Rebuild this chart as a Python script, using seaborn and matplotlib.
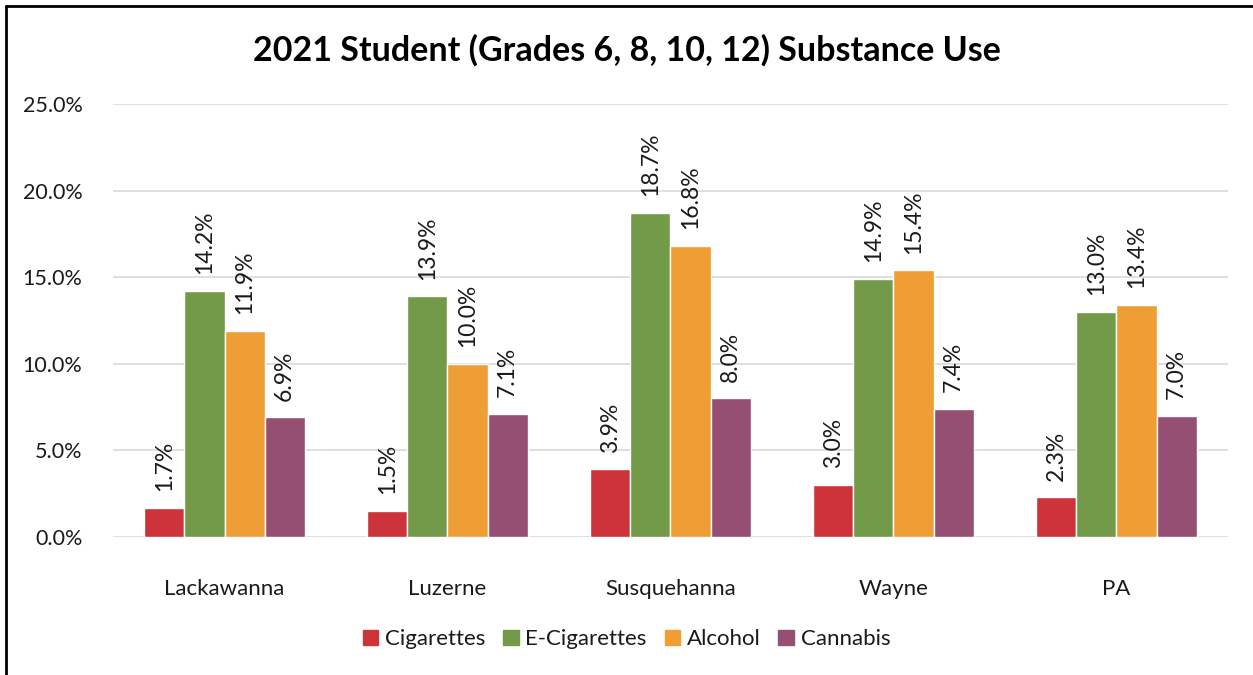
import pandas as pd
import seaborn as sns
import matplotlib.pyplot as plt
from matplotlib.lines import Line2D

counties = ["Lackawanna", "Luzerne", "Susquehanna", "Wayne", "PA"]
substances = ["Cigarettes", "E-Cigarettes", "Alcohol", "Cannabis"]
cigarettes = [1.7, 1.5, 3.9, 3.0, 2.3]
e_cigarettes = [14.2, 13.9, 18.7, 14.9, 13.0]
alcohol = [11.9, 10.0, 16.8, 15.4, 13.4]
cannabis = [6.9, 7.1, 8.0, 7.4, 7.0]
colors = ["#CC333A", "#739A48", "#EE9E35", "#954F72"]

rows = []
for name, vals in zip(substances, [cigarettes, e_cigarettes, alcohol, cannabis]):
    for c, v in zip(counties, vals):
        rows.append({"County": c, "Substance": name, "Value": v / 100})
df = pd.DataFrame(rows)

sns.set_style("white")
plt.rcParams['font.family'] = ['Lato', 'DejaVu Sans']
txt = '#1a1a1a'

fig = plt.figure(figsize=(12.53, 6.75), dpi=100)
ax = fig.add_axes([0.0902, 0.2044, 0.8898, 0.6416])

sns.barplot(data=df, x="County", y="Value", hue="Substance", order=counties,
            hue_order=substances, palette=colors, width=0.72, gap=0,
            saturation=1, errorbar=None, ax=ax, zorder=3)

ax.set_xlim(-0.5, 4.5)
ax.set_ylim(0, 0.25)
ax.set_yticks([0, 0.05, 0.10, 0.15, 0.20, 0.25])
ax.set_yticklabels([f"{t*100:.1f}%" for t in ax.get_yticks()], fontsize=15.5, color=txt)
ax.tick_params(axis='x', labelsize=16, pad=30, length=0, labelcolor=txt)
ax.tick_params(axis='y', length=0, pad=22)
ax.set_xlabel("")
ax.set_ylabel("")
ax.grid(axis='y', color='#D9D9D9', linewidth=1.2, zorder=0)
for s in ax.spines.values():
    s.set_visible(False)

for cont in ax.containers:
    ax.bar_label(cont, labels=[f"{b.get_height()*100:.1f}%" for b in cont],
                 rotation=90, padding=12, fontsize=16.5, color=txt)

ax.get_legend().remove()
handles = [plt.Rectangle((0, 0), 1, 1, color=c) for c in colors]
fig.legend(handles, substances, loc='center', bbox_to_anchor=(0.5, 0.053),
           ncol=4, frameon=False, fontsize=16, handlelength=0.7, handleheight=0.7,
           columnspacing=0.8, handletextpad=0.3, labelcolor=txt)

fig.suptitle("2021 Student (Grades 6, 8, 10, 12) Substance Use", y=0.95,
             fontsize=24.5, fontweight='bold', color='black')

fig.add_artist(Line2D([0.005, 0.005], [0, 0.991], color='black', linewidth=2,
                      transform=fig.transFigure))
fig.add_artist(Line2D([0.005, 1], [0.991, 0.991], color='black', linewidth=2,
                      transform=fig.transFigure))

fig.savefig("out.png", dpi=100)
